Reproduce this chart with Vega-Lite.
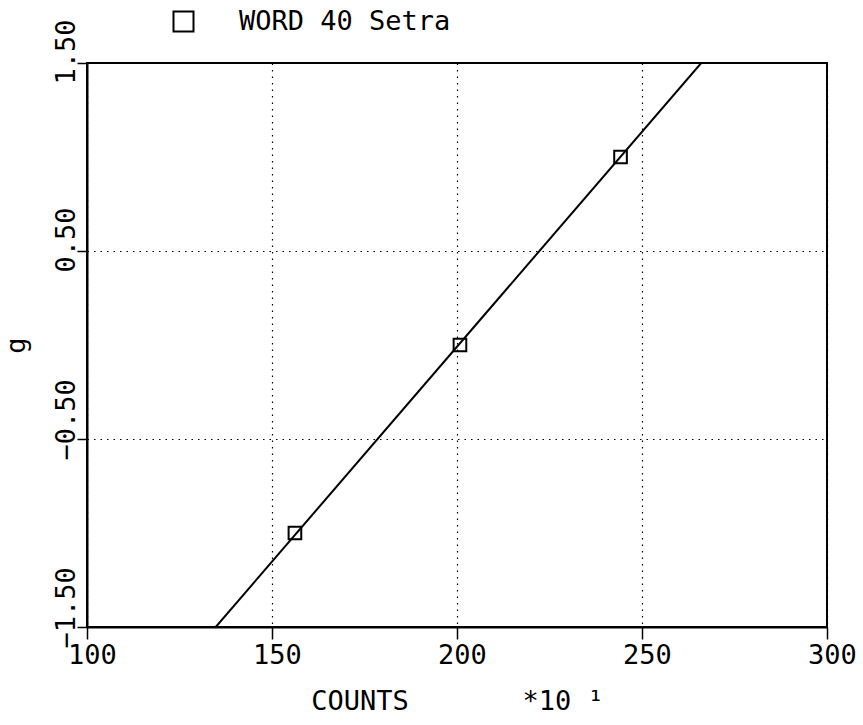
{
  "$schema": "https://vega.github.io/schema/vega-lite/v6.json",
  "autosize": {"type": "none"},
  "width": 740,
  "height": 564,
  "padding": {"left": 87, "top": 63, "right": 36, "bottom": 98},
  "background": "white",
  "config": {
    "view": {"stroke": "black", "strokeWidth": 2},
    "font": "DejaVu Sans Mono",
    "axis": {
      "domainColor": "black",
      "domainWidth": 2,
      "tickColor": "black",
      "tickWidth": 1.5,
      "tickSize": 12,
      "gridColor": "black",
      "gridDash": [1.5, 5],
      "gridWidth": 1.2,
      "gridOpacity": 1,
      "labelFont": "DejaVu Sans Mono",
      "labelFontSize": 27,
      "labelColor": "black",
      "titleFont": "DejaVu Sans Mono",
      "titleFontSize": 27,
      "titleFontWeight": "normal",
      "titleColor": "black"
    }
  },
  "datasets": {
    "points": [
      {"counts": 156.2, "g": -1.0, "series": "WORD 40 Setra"},
      {"counts": 200.8, "g": 0.0, "series": "WORD 40 Setra"},
      {"counts": 244.2, "g": 1.0, "series": "WORD 40 Setra"}
    ],
    "fit": [
      {"counts": 134.8, "g": -1.5},
      {"counts": 266.0, "g": 1.5}
    ]
  },
  "layer": [
    {
      "data": {"name": "fit"},
      "mark": {"type": "line", "color": "black", "strokeWidth": 2, "clip": true},
      "encoding": {
        "x": {
          "field": "counts", "type": "quantitative",
          "scale": {"domain": [100, 300], "nice": false, "zero": false},
          "axis": {
            "values": [100, 150, 200, 250, 300],
            "format": "d",
            "grid": true,
            "labelPadding": 3,
            "labelOffset": 5,
            "labelFlush": false,
            "labelOverlap": false,
            "title": "COUNTS\u00a0\u00a0\u00a0\u00a0\u00a0\u00a0\u00a0*10\u00a0¹",
            "titlePadding": 20
          }
        },
        "y": {
          "field": "g", "type": "quantitative",
          "scale": {"domain": [-1.5, 1.5], "nice": false, "zero": false},
          "axis": {
            "values": [-1.5, -0.5, 0.5, 1.5],
            "format": ".2f",
            "grid": true,
            "labelAngle": -90,
            "labelAlign": "left",
            "labelBaseline": "bottom",
            "labelOffset": 21,
            "labelPadding": -3,
            "tickSize": 10,
            "labelFlush": false,
            "labelOverlap": false,
            "title": "g",
            "titlePadding": 22
          }
        }
      }
    },
    {
      "data": {"name": "points"},
      "mark": {"type": "point", "shape": "square", "filled": false, "stroke": "black", "strokeWidth": 2, "size": 160, "opacity": 1},
      "encoding": {
        "x": {"field": "counts", "type": "quantitative"},
        "y": {"field": "g", "type": "quantitative"},
        "shape": {
          "field": "series", "type": "nominal",
          "scale": {"range": ["square"]},
          "legend": {
            "orient": "none",
            "legendX": 83,
            "legendY": -55,
            "title": null,
            "padding": 0,
            "symbolSize": 400,
            "symbolStrokeColor": "black",
            "symbolStrokeWidth": 2,
            "symbolOpacity": 1,
            "symbolFillColor": "transparent",
            "symbolType": "square",
            "labelFont": "DejaVu Sans Mono",
            "labelFontSize": 27,
            "labelColor": "black",
            "labelLimit": 0,
            "labelOffset": 42
          }
        }
      }
    }
  ]
}
